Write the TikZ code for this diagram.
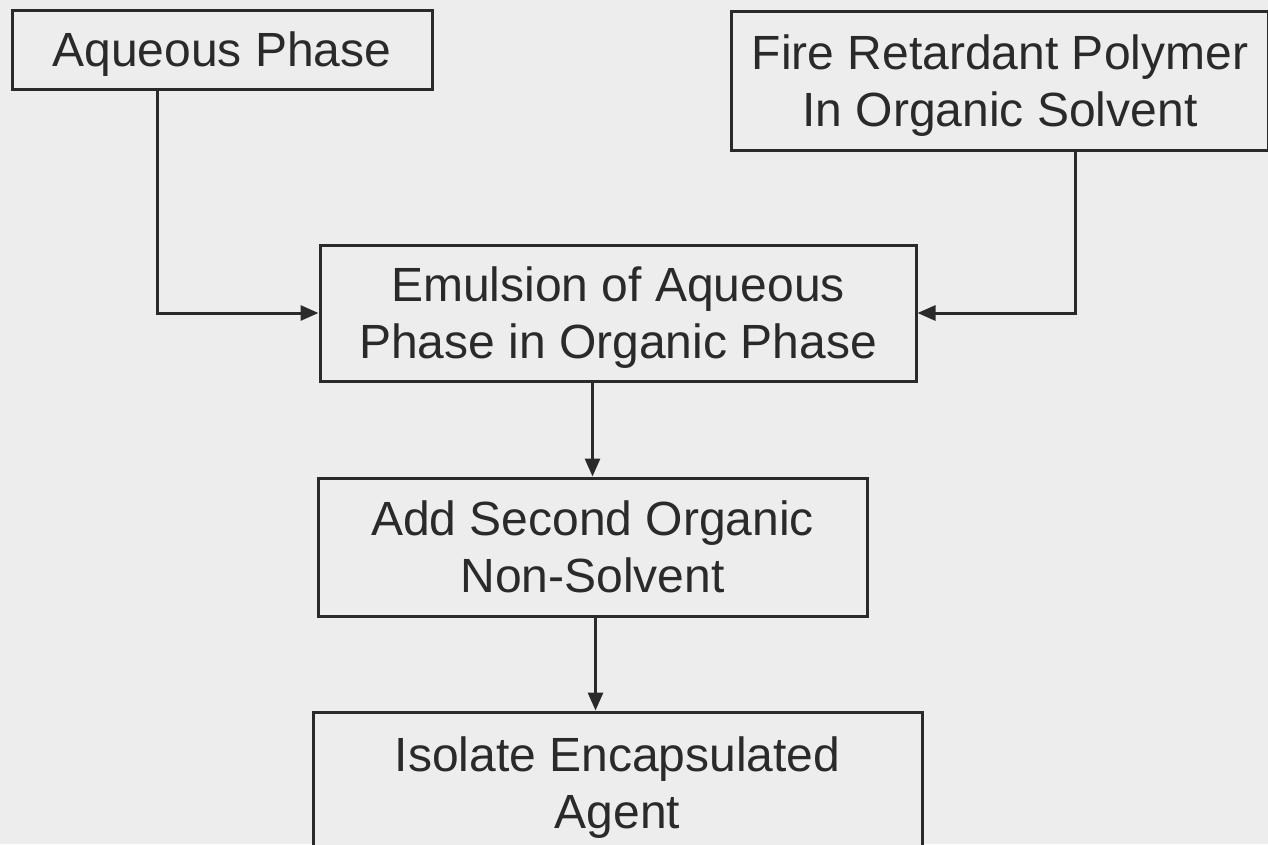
\documentclass[tikz,border=0pt]{standalone}
\usepackage{fontspec}
\setmainfont{Liberation Sans}
\usetikzlibrary{arrows.meta}
\definecolor{bg}{HTML}{EDEDED}
\definecolor{ink}{HTML}{2A2A2A}
\newcommand\toprule{\rule{0pt}{46pt}}
\newcommand\botrule{\rule[-12pt]{0pt}{12pt}}
\begin{document}
\begin{tikzpicture}[x=1pt,y=-1pt,
  box/.style={draw=ink, line width=3pt, text=ink, fill=bg, rectangle, align=center,
    inner sep=0pt, font=\fontsize{48}{57}\selectfont},
  arr/.style={draw=ink, line width=3pt, -{Triangle[length=18pt,width=15pt]}}]
\fill[bg] (0,0) rectangle (1268,844);
\useasboundingbox (0,0) rectangle (1268,844);
\node[box, minimum width=420pt, minimum height=79pt] (aq) at (222,49.5) {\toprule\botrule Aqueous Phase};
\node[box, minimum width=537pt, minimum height=139pt] (fire) at (1000,80.5) {\toprule Fire Retardant Polymer\\\botrule In Organic Solvent};
\node[box, minimum width=596pt, minimum height=136pt] (emul) at (618,313) {\toprule Emulsion of Aqueous\\\botrule Phase in Organic Phase};
\node[box, minimum width=549pt, minimum height=138pt] (add) at (592.5,547) {\toprule Add Second Organic\\\botrule Non-Solvent};
\node[box, minimum width=609pt, minimum height=142pt] (iso) at (617.5,783) {\toprule Isolate Encapsulated\\\botrule Agent};
\coordinate (c1) at (157,313);
\coordinate (c2) at (1075,313);
\draw[arr] (aq.south -| c1) |- (emul.west);
\draw[arr] (fire.south -| c2) |- (emul.east);
\draw[arr] (add.north |- emul.south) -- (add.north);
\draw[arr] ([xshift=3pt]add.south) -- ([xshift=3pt]add.south |- iso.north);
\end{tikzpicture}
\end{document}
